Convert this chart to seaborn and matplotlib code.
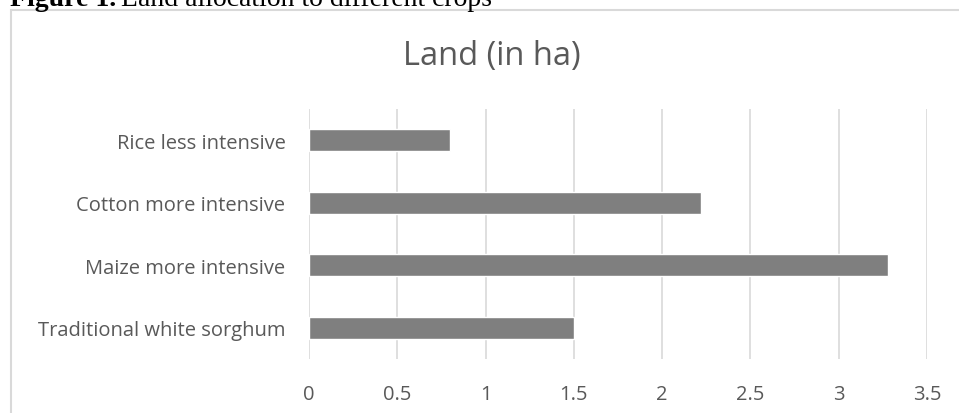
import matplotlib
matplotlib.use("Agg")
import matplotlib.pyplot as plt
from matplotlib.patches import Rectangle
import seaborn as sns
import pandas as pd

crops = ["Rice less intensive", "Cotton more intensive",
         "Maize more intensive", "Traditional white sorghum"]
land_ha = [0.80, 2.22, 3.28, 1.50]
x_ticks = [0, 0.5, 1, 1.5, 2, 2.5, 3, 3.5]
x_tick_labels = ["0", "0.5", "1", "1.5", "2", "2.5", "3", "3.5"]

sns.set_theme(style="white")
plt.rcParams["font.family"] = ["Open Sans", "DejaVu Sans"]

W, H = 959, 414
fig = plt.figure(figsize=(W / 100, H / 100), dpi=100)
fig.patch.set_facecolor("white")

# chart frame (runs off the right and bottom of the page)
fig.patches.append(Rectangle((10.5 / W, -0.1), 1.2, 1 - 10.5 / H + 0.1,
                             transform=fig.transFigure, fill=False,
                             edgecolor="#d9d9d9", linewidth=1.5))

ax = fig.add_axes([309 / W, 1 - 360 / H, (927 - 309) / W, 250 / H])
df = pd.DataFrame({"crop": crops, "land": land_ha})
sns.barplot(data=df, x="land", y="crop", orient="h", color="#7f7f7f",
            width=0.35, saturation=1, ax=ax)

ax.set_xlim(0, 3.5)
ax.set_ylim(3.5, -0.5)
ax.set_xticks(x_ticks)
ax.set_xticklabels(x_tick_labels)
ax.set_xlabel("")
ax.set_ylabel("")
ax.set_axisbelow(True)
ax.grid(axis="x", color="#d9d9d9", linewidth=1.2)
ax.grid(axis="y", visible=False)
for s in ax.spines.values():
    s.set_visible(False)
ax.tick_params(axis="x", length=0, pad=18, labelsize=14.5, labelcolor="#595959")
ax.tick_params(axis="y", length=0, pad=17, labelsize=14.5, labelcolor="#595959")

fig.text(492 / W, 1 - 57 / H, "Land (in ha)", ha="center", va="center",
         fontsize=23.5, color="#595959")

# caption above the chart: bold label followed by regular text
cap_y = 1 - 6 / H
bold = fig.text(10 / W, cap_y, "Figure 1.", ha="left", va="baseline",
                fontsize=20, family="Liberation Serif", weight="bold",
                color="black")
fig.canvas.draw()
bb = bold.get_window_extent(renderer=fig.canvas.get_renderer())
fig.text(bb.x1 / W + 5 / W, cap_y, "Land allocation to different crops",
         ha="left", va="baseline", fontsize=20, family="Liberation Serif",
         color="black")

fig.savefig("out.png", dpi=100)
